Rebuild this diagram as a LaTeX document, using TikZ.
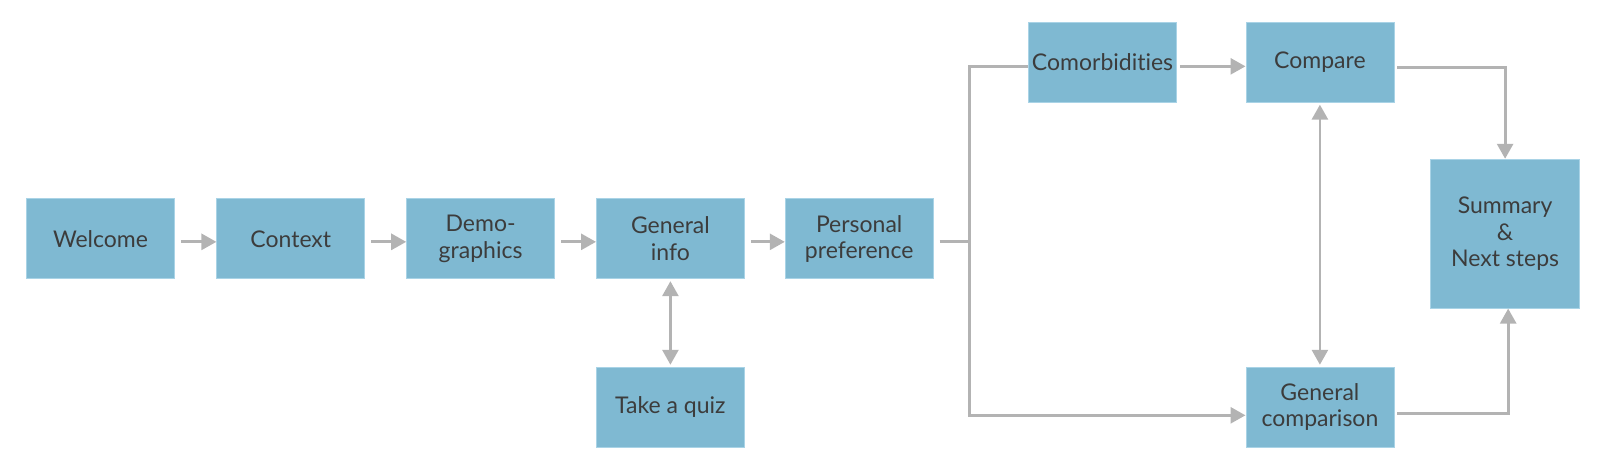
\documentclass[tikz,border=0pt]{standalone}
\usepackage{fontspec}
\setmainfont{Lato}[Ligatures=NoCommon]
\usetikzlibrary{arrows.meta}
\definecolor{boxfill}{HTML}{7FB9D2}
\definecolor{boxline}{HTML}{A9D3E6}
\definecolor{txt}{HTML}{3C3C3C}
\definecolor{conn}{HTML}{B3B3B3}
\begin{document}
\begin{tikzpicture}[x=1.0204pt,y=-1.0204pt,
  box/.style={rectangle,fill=boxfill,draw=boxline,line width=0.8pt,minimum width=148pt,minimum height=80pt,
    text=txt,font=\fontsize{23}{26.5}\selectfont,align=center,inner sep=0pt},
  link/.style={draw=conn,line width=2.8pt,-{Triangle[length=15pt,width=16pt]}},
  plain/.style={draw=conn,line width=2.8pt},
  both/.style={draw=conn,line width=2.8pt,{Triangle[length=15pt,width=16pt]}-{Triangle[length=15pt,width=16pt]}}]
\useasboundingbox (0,0) rectangle (1568,464.5);
\node[box] (wel) at (98.5,234) {Welcome};
\node[box] (ctx) at (285,234) {Context};
\node[box] (dem) at (471,234) {Demo-\\graphics};
\node[box] (gen) at (657,234) {General\\info};
\node[box] (per) at (842,234) {Personal\\preference};
\node[box] (quiz) at (657,399) {Take a quiz};
\node[box] (com) at (1080.5,61) {Comorbidities};
\node[box] (cmp) at (1293.5,61) {Compare};
\node[box,minimum height=149pt,minimum width=149pt] (sum) at (1475,229) {Summary\\\&\\Next steps};
\node[box] (gcm) at (1293.5,399) {General\\comparison};
\coordinate (j) at (950,237);
\draw[link,shorten <=6pt] (wel.east|-0,237) -- (ctx.west|-0,237);
\draw[link,shorten <=6pt] (ctx.east|-0,237) -- (dem.west|-0,237);
\draw[link,shorten <=6pt] (dem.east|-0,237) -- (gen.west|-0,237);
\draw[link,shorten <=6pt] (gen.east|-0,237) -- (per.west|-0,237);
\draw[plain,shorten <=6pt] (per.east|-0,237) -- (j);
\draw[plain] (com.west|-0,65) -| (j);
\draw[link] (j) |- (gcm.west|-0,407);
\draw[link,shorten <=3pt] (com.east|-0,65) -- (cmp.west|-0,65);
\draw[link,shorten <=3pt] (cmp.east|-0,66) -| (sum.north);
\draw[link,shorten <=3pt] (gcm.east|-0,405) -| (1478,0|-sum.south);
\draw[both,shorten <=2pt,shorten >=2pt] (cmp.south) -- (gcm.north);
\draw[both,shorten <=2pt,shorten >=2pt] (gen.south) -- (quiz.north);
\end{tikzpicture}
\end{document}
